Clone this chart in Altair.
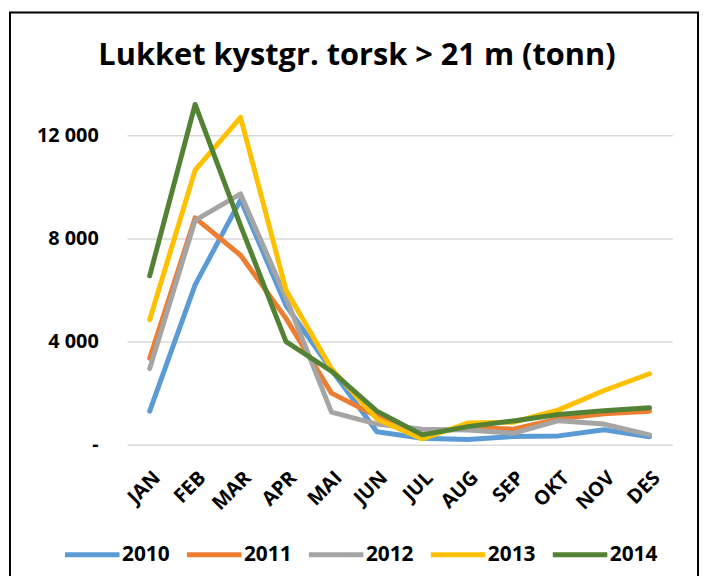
import altair as alt
import pandas as pd

months = ["JAN", "FEB", "MAR", "APR", "MAI", "JUN", "JUL", "AUG", "SEP", "OKT", "NOV", "DES"]
years = ["2010", "2011", "2012", "2013", "2014"]
v2010 = [1300, 6200, 9500, 5400, 2900, 500, 250, 200, 320, 340, 580, 310]
v2011 = [3350, 8800, 7350, 4900, 2000, 1100, 400, 670, 600, 1000, 1200, 1300]
v2012 = [2950, 8700, 9730, 5700, 1260, 800, 600, 570, 440, 930, 800, 380]
v2013 = [4850, 10650, 12700, 6000, 2950, 1000, 220, 840, 870, 1350, 2100, 2750]
v2014 = [6550, 13200, 8500, 4000, 2850, 1300, 380, 700, 920, 1170, 1320, 1430]
colors = ["#5B9BD5", "#ED7D31", "#A5A5A5", "#FFC000", "#548235"]
y_ticks = [0, 4000, 8000, 12000]
title_text = "Lukket kystgr. torsk > 21 m (tonn)"

series = [v2010, v2011, v2012, v2013, v2014]
rows = []
for yr, vals in zip(years, series):
    for m, v in zip(months, vals):
        rows.append({"Måned": m, "År": yr, "Tonn": v})
df = pd.DataFrame(rows)

FONT = "Open Sans"
W, H = 550, 364

lines = alt.Chart(df).mark_line(strokeWidth=5, strokeCap="round", strokeJoin="round").encode(
    x=alt.X("Måned:N", sort=months, scale=alt.Scale(type="point", padding=0.5),
            axis=alt.Axis(title=None, labelAngle=-45, labelFont=FONT, labelFontSize=20,
                          labelFontWeight="bold", labelColor="#000000", ticks=False,
                          domain=False, grid=False, labelPadding=23)),
    y=alt.Y("Tonn:Q", scale=alt.Scale(domain=[0, 14000], nice=False),
            axis=alt.Axis(title=None, values=y_ticks, labelFont=FONT, labelFontSize=20,
                          labelFontWeight="bold", labelColor="#000000", ticks=False,
                          domain=False, grid=True, gridColor="#D9D9D9", gridWidth=1.5,
                          labelPadding=29,
                          labelExpr="datum.value == 0 ? '-' : replace(format(datum.value, ',d'), ',', ' ')")),
    color=alt.Color("År:N", scale=alt.Scale(domain=years, range=colors),
                    legend=alt.Legend(title=None, orient="none", legendX=-65, legendY=445,
                                      direction="horizontal", columns=5, symbolType="stroke",
                                      symbolSize=3025, symbolStrokeWidth=5, columnPadding=6,
                                      labelOffset=0, labelFont=FONT, labelFontSize=21,
                                      labelFontWeight="bold", labelColor="#000000")),
    order=alt.Order("År:N"),
)

frame = alt.Chart(pd.DataFrame({"a": [0]})).mark_rect(
    fill=None, stroke="#000000", strokeWidth=2
).encode(
    x=alt.value(-118), x2=alt.value(576), y=alt.value(-72), y2=alt.value(640)
)

title = alt.Chart(pd.DataFrame({"t": [title_text]})).mark_text(
    font=FONT, fontSize=31, fontWeight="bold", color="#000000",
    align="center", baseline="alphabetic"
).encode(
    text="t:N", x=alt.value(232), y=alt.value(-19)
)

chart = alt.layer(lines, frame, title).properties(
    width=W, height=H,
    autosize=alt.AutoSizeParams(type="none"),
    padding={"left": 120, "top": 74, "right": 30, "bottom": 130},
).configure_view(stroke=None)

chart.save("out.html", embed_options={"renderer": "svg", "actions": False})
